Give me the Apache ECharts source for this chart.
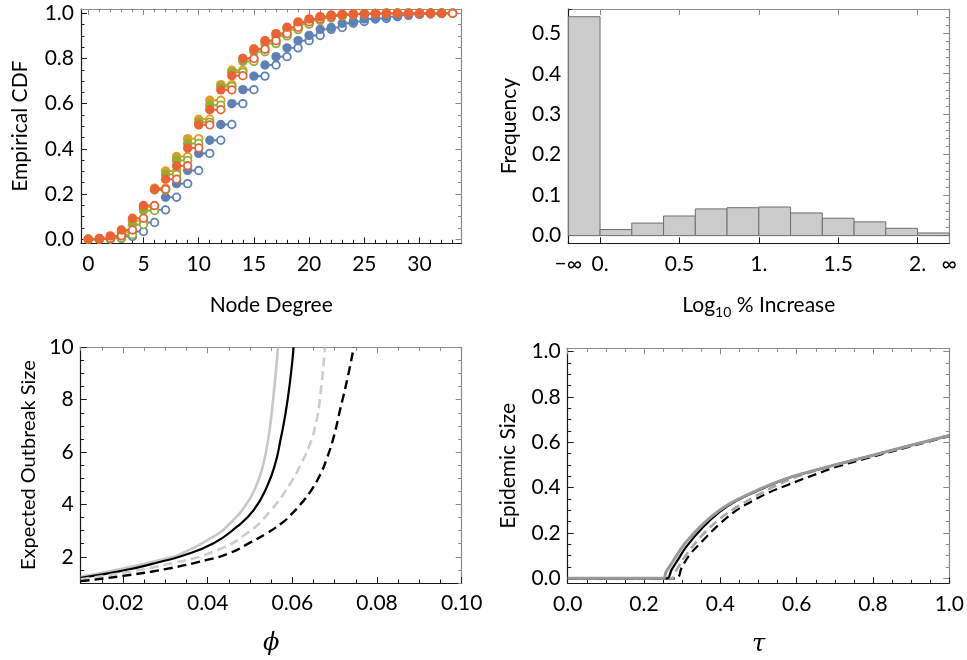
<!DOCTYPE html>
<html><head><meta charset="utf-8">
<script src="https://cdn.jsdelivr.net/npm/echarts@6/dist/echarts.min.js"></script>
<style>html,body{margin:0;padding:0;background:#fff}#c{width:967px;height:660px}</style>
</head><body><div id="c"></div>
<script>
// ---------------- DATA ----------------
// Panel A: empirical CDF of node degree (value at degree k, step to k+1)
const degrees = [0,1,2,3,4,5,6,7,8,9,10,11,12,13,14,15,16,17,18,19,20,21,22,23,24,25,26,27,28,29,30,31,32];
const cdfBlue   = [0.000,0.001,0.004,0.012,0.034,0.074,0.130,0.186,0.246,0.304,0.380,0.438,0.508,0.600,0.662,0.722,0.771,0.808,0.847,0.879,0.902,0.929,0.937,0.956,0.964,0.975,0.977,0.985,0.991,0.995,0.997,0.999,1.000];
const cdfOrange = [0.000,0.002,0.012,0.032,0.082,0.142,0.226,0.302,0.366,0.445,0.531,0.615,0.684,0.748,0.800,0.843,0.877,0.909,0.936,0.958,0.974,0.985,0.992,0.995,0.997,0.998,0.999,1.000,1.000,1.000,1.000,1.000,1.000];
const cdfGreen  = [0.000,0.001,0.006,0.020,0.065,0.127,0.218,0.287,0.349,0.424,0.518,0.593,0.676,0.739,0.787,0.830,0.866,0.900,0.928,0.952,0.968,0.979,0.988,0.993,0.996,0.998,0.999,1.000,1.000,1.000,1.000,1.000,1.000];
const cdfRed    = [0.000,0.004,0.015,0.041,0.093,0.149,0.221,0.266,0.325,0.404,0.506,0.573,0.661,0.724,0.800,0.841,0.879,0.910,0.938,0.962,0.975,0.985,0.992,0.995,0.997,0.998,0.999,1.000,1.000,1.000,1.000,1.000,1.000];
const degreeTicks = [0,5,10,15,20,25,30];
const cdfTicks = [0,0.2,0.4,0.6,0.8,1.0];

// Panel B: histogram of log10 % increase
const histBinStart = [-0.2,0.0,0.2,0.4,0.6,0.8,1.0,1.2,1.4,1.6,1.8,2.0];
const histBinEnd   = [ 0.0,0.2,0.4,0.6,0.8,1.0,1.2,1.4,1.6,1.8,2.0,2.2];
const histFreq     = [0.541,0.015,0.031,0.0485,0.066,0.069,0.0707,0.056,0.043,0.034,0.018,0.0066];
const histXTicks = [-0.2,0,0.5,1,1.5,2,2.2];
const histXTickLabels = ['\u2212\u221E','0.','0.5','1.','1.5','2.','\u221E'];
const histYTicks = [0,0.1,0.2,0.3,0.4,0.5];

// Panel C: expected outbreak size vs phi
const phiGraySolid  = [[0.01,1.24],[0.02,1.55],[0.03,1.93],[0.0335,2.1],[0.0414,2.77],[0.0453,3.28],[0.0493,4.05],[0.0517,4.81],[0.0532,5.58],[0.0544,6.6],[0.0552,7.62],[0.056,8.89],[0.0566,10]];
const phiBlackSolid = [[0.01,1.2],[0.02,1.47],[0.03,1.86],[0.0335,2.01],[0.0414,2.52],[0.0469,3.15],[0.0509,3.79],[0.054,4.68],[0.056,5.58],[0.0572,6.47],[0.0584,7.49],[0.0595,8.76],[0.0603,10]];
const phiGrayDashed = [[0.01,1.14],[0.02,1.39],[0.03,1.7],[0.0414,2.2],[0.0493,2.9],[0.0548,3.75],[0.0595,4.8],[0.0619,5.5],[0.0639,6.2],[0.0655,7.05],[0.0666,8.15],[0.0677,10]];
const phiBlackDashed= [[0.01,1.07],[0.02,1.27],[0.03,1.53],[0.0398,1.88],[0.0453,2.15],[0.0501,2.55],[0.054,2.9],[0.058,3.35],[0.0595,3.58],[0.0619,4.0],[0.0643,4.5],[0.0666,5.15],[0.0682,5.78],[0.0698,6.6],[0.0714,7.7],[0.073,8.8],[0.0745,10]];
const phiTicks = [0.02,0.04,0.06,0.08,0.10];
const outbreakTicks = [2,4,6,8,10];

// Panel D: epidemic size vs tau
const tauGraySolid  = [[0,0],[0.25,0],[0.258,0.03],[0.268,0.055],[0.289,0.11],[0.311,0.162],[0.355,0.24],[0.398,0.30],[0.442,0.345],[0.486,0.38],[0.529,0.412],[0.573,0.44],[0.616,0.462],[0.66,0.482],[0.7,0.5],[0.8,0.543],[0.9,0.587],[1.0,0.63]];
const tauBlackSolid = [[0,0],[0.26,0],[0.272,0.037],[0.294,0.096],[0.311,0.14],[0.355,0.226],[0.398,0.293],[0.442,0.342],[0.486,0.378],[0.529,0.41],[0.573,0.44],[0.616,0.462],[0.66,0.482],[0.7,0.5],[0.8,0.543],[0.9,0.587],[1.0,0.63]];
const tauGrayDashed = [[0,0],[0.272,0],[0.285,0.037],[0.311,0.105],[0.355,0.195],[0.398,0.262],[0.442,0.314],[0.486,0.356],[0.529,0.395],[0.573,0.43],[0.616,0.458],[0.66,0.48],[0.7,0.5],[0.8,0.543],[0.9,0.587],[1.0,0.63]];
const tauBlackDashed= [[0,0],[0.285,0],[0.298,0.045],[0.32,0.105],[0.355,0.168],[0.398,0.24],[0.442,0.3],[0.486,0.343],[0.529,0.38],[0.573,0.41],[0.616,0.438],[0.66,0.465],[0.7,0.49],[0.8,0.537],[0.9,0.583],[1.0,0.627]];
const tauTicks = [0,0.2,0.4,0.6,0.8,1.0];
const epiTicks = [0,0.2,0.4,0.6,0.8,1.0];

// ---------------- CHART ----------------
const FONT = 'Lato';
const TXT = '#000';
const chart = echarts.init(document.getElementById('c'), null, {renderer:'canvas'});

const grids = [
  {left:81, top:9, width:380.5, height:234.3},
  {left:568.3, top:9, width:381, height:234.3},
  {left:80.7, top:347.3, width:381, height:235.7},
  {left:567.7, top:348.3, width:382.3, height:235}
];

const xAxes = [], yAxes = [];
function minorValues(min, max, step, majors){
  const out = [];
  const start = Math.ceil(min/step - 1e-9);
  for (let i = start; i*step <= max + 1e-9; i++){
    const v = +(i*step).toFixed(6);
    if (!majors.some(m => Math.abs(m - v) < 1e-9)) out.push(v);
  }
  return out;
}
function nearestLabel(vals, labels, v){
  let b = 0; for (let i=1;i<vals.length;i++) if (Math.abs(vals[i]-v) < Math.abs(vals[b]-v)) b = i;
  return labels[b];
}
function buildAxes(list, dim, gi, min, max, majors, minorStep, fmt, nameCfg){
  const primaryPos = dim === 'x' ? 'bottom' : 'left';
  const oppPos = dim === 'x' ? 'top' : 'right';
  const minors = minorStep ? minorValues(min, max, minorStep, majors) : [];
  const base = (pos, show, color, vals, len, labels, extra) => Object.assign({
    type:'value', gridIndex:gi, position:pos, min:min, max:max,
    splitLine:{show:false},
    axisLine:{show:show, onZero:false, lineStyle:{color:color, width:1.2}},
    axisTick:{show:true, inside:true, length:len, customValues:vals, lineStyle:{color:color, width:1}},
    axisLabel:labels ? Object.assign({show:true, customValues:vals}, labels) : {show:false},
    silent:true
  }, extra || {});
  const idx = list.length;
  const labelCfg = {
    formatter: fmt, color:TXT, fontFamily:FONT, fontSize:21,
    margin: dim === 'x' ? 10 : 7, hideOverlap:false, showMinLabel:true, showMaxLabel:true
  };
  list.push(base(primaryPos, true, '#1a1a1a', majors, 6, labelCfg, nameCfg));
  list.push(base(primaryPos, false, '#1a1a1a', minors, 3.5, null));
  list.push(base(oppPos, true, '#8a8a8a', majors, 6, null));
  list.push(base(oppPos, false, '#8a8a8a', minors, 3.5, null));
  return idx;
}
const nameStyle = {color:TXT, fontFamily:FONT, fontSize:21};
const greekStyle = {color:TXT, fontFamily:'DejaVu Serif', fontStyle:'italic', fontSize:24};

// Panel A axes
const ax0 = buildAxes(xAxes,'x',0,-0.66,33.8,degreeTicks,1, v=>String(Math.round(v)),
  {name:'Node Degree', nameLocation:'middle', nameGap:51, nameTextStyle:nameStyle});
const ay0 = buildAxes(yAxes,'y',0,-0.018,1.019,cdfTicks,0.05, v=>v.toFixed(1),
  {name:'Empirical CDF', nameLocation:'middle', nameGap:50, nameTextStyle:nameStyle});
// Panel B axes
const ax1 = buildAxes(xAxes,'x',1,-0.2,2.2,histXTicks.filter(v=>v>-0.2&&v<2.2),0,
  null, {name:'Log{s|10} % Increase', nameLocation:'middle', nameGap:48,
  nameTextStyle:Object.assign({rich:{s:{fontFamily:FONT, fontSize:14, color:TXT, verticalAlign:'bottom', padding:[14,0,0,0]}}}, nameStyle)});
xAxes[ax1].axisLabel.customValues = histXTicks;
xAxes[ax1].axisLabel.formatter = v => nearestLabel(histXTicks, histXTickLabels, v);
const ay1 = buildAxes(yAxes,'y',1,-0.019,0.56,histYTicks,0.02, v=>v.toFixed(1),
  {name:'Frequency', nameLocation:'middle', nameGap:49, nameTextStyle:nameStyle});
// Panel C axes
const ax2 = buildAxes(xAxes,'x',2,0.01,0.1,phiTicks,0.005, v=>v.toFixed(2),
  {name:'\u03D5', nameLocation:'middle', nameGap:49, nameTextStyle:greekStyle});
const ay2 = buildAxes(yAxes,'y',2,1,10,outbreakTicks,0.5, v=>String(Math.round(v)),
  {name:'Expected Outbreak Size', nameLocation:'middle', nameGap:42,
   nameTextStyle:Object.assign({}, nameStyle, {fontSize:20})});
// Panel D axes
const ax3 = buildAxes(xAxes,'x',3,0,1,tauTicks,0.05, v=>v.toFixed(1),
  {name:'\u03C4', nameLocation:'middle', nameGap:49, nameTextStyle:greekStyle});
const ay3 = buildAxes(yAxes,'y',3,-0.022,1.015,epiTicks,0.05, v=>v.toFixed(1),
  {name:'Epidemic Size', nameLocation:'middle', nameGap:49, nameTextStyle:nameStyle});

const series = [];
function cdfSeries(vals, color){
  return {
    type:'custom', xAxisIndex:ax0, yAxisIndex:ay0, clip:false, silent:true,
    data: vals.map((v,k)=>[degrees[k], v]),
    encode:{x:0, y:1},
    renderItem:(params, api) => {
      const k = api.value(0), v = api.value(1);
      const p0 = api.coord([k, v]), p1 = api.coord([k+1, v]);
      return {type:'group', children:[
        {type:'line', shape:{x1:p0[0], y1:p0[1], x2:p1[0], y2:p1[1]}, style:{stroke:color, lineWidth:2}},
        {type:'circle', shape:{cx:p0[0], cy:p0[1], r:4.7}, style:{fill:color}},
        {type:'circle', shape:{cx:p1[0], cy:p1[1], r:3.8}, style:{fill:'#fff', stroke:color, lineWidth:1.8}}
      ]};
    }
  };
}
series.push(cdfSeries(cdfBlue,'#5E81B5'));
series.push(cdfSeries(cdfOrange,'#E19C24'));
series.push(cdfSeries(cdfGreen,'#8FB032'));
series.push(cdfSeries(cdfRed,'#EB6235'));

series.push({
  type:'custom', xAxisIndex:ax1, yAxisIndex:ay1, silent:true,
  data: histFreq.map((f,i)=>[histBinStart[i], histBinEnd[i], f]),
  encode:{x:[0,1], y:2},
  renderItem:(params, api) => {
    const a = api.coord([api.value(0), api.value(2)]);
    const b = api.coord([api.value(1), 0]);
    return {type:'rect', shape:{x:a[0], y:a[1], width:b[0]-a[0], height:b[1]-a[1]},
      style:{fill:'#cbcbcb', stroke:'#6f6f6f', lineWidth:1}};
  }
});

function curve(data, xi, yi, color, width, dashed, sm){
  return {type:'line', xAxisIndex:xi, yAxisIndex:yi, data:data, showSymbol:false, symbol:'none',
    smooth: sm, silent:true, clip:true,
    lineStyle:{color:color, width:width, type: dashed ? [9,5] : 'solid', cap:'butt', join:'round'}};
}
series.push(curve(phiGraySolid, ax2, ay2, '#c8c8c8', 2.6, false, 0.5));
series.push(curve(phiBlackSolid, ax2, ay2, '#000', 2.2, false, 0.5));
series.push(curve(phiGrayDashed, ax2, ay2, '#cdcdcd', 2.6, true, 0.5));
series.push(curve(phiBlackDashed, ax2, ay2, '#000', 2.4, true, 0.5));

series.push(curve(tauBlackDashed, ax3, ay3, '#000', 2.2, true, 0.35));
series.push(curve(tauGrayDashed, ax3, ay3, '#a8a8a8', 2.6, true, 0.35));
series.push(curve(tauBlackSolid, ax3, ay3, '#000', 2.2, false, 0.35));
series.push(curve(tauGraySolid, ax3, ay3, '#999999', 3, false, 0.35));

chart.setOption({
  animation:false,
  backgroundColor:'#fff',
  grid: grids,
  xAxis: xAxes,
  yAxis: yAxes,
  series: series
});
</script>
</body></html>
